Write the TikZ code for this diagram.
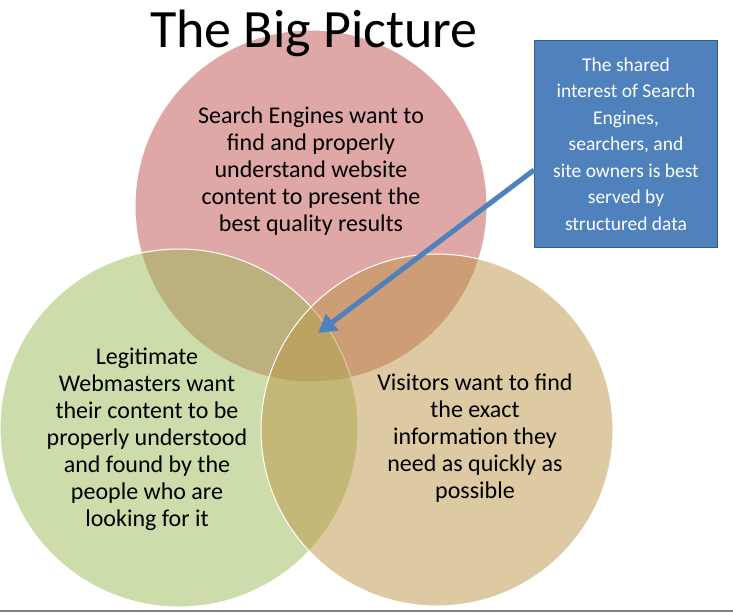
\documentclass[tikz,border=0pt]{standalone}
\usepackage{fontspec}
\setmainfont{Carlito}
\usetikzlibrary{arrows.meta}
\definecolor{cred}{RGB}{192,80,77}
\definecolor{cgreen}{RGB}{155,187,89}
\definecolor{ctan}{RGB}{189,150,70}
\definecolor{cblue}{RGB}{79,129,189}
\definecolor{cbluedark}{RGB}{56,93,138}
\tikzset{circ/.style={draw=white,line width=1pt,fill opacity=0.5},
 txt/.style={align=center,font=\fontsize{24}{27}\selectfont,text=black}}
\begin{document}
\begin{tikzpicture}[x=1pt,y=-1pt]
\useasboundingbox (0,0) rectangle (733,614);
\fill[white] (0,0) rectangle (733,614);
\draw[circ,fill=cred] (311,206) circle (176);
\draw[circ,fill=cgreen] (179,428) circle (179);
\draw[circ,fill=ctan] (437,430) circle (176);
\draw[gray,line width=1.5pt] (0,611) -- (733,611);
\node[font=\fontsize{54}{58}\selectfont] (title) at (314,33) {The Big Picture};
\node[txt] (t1) at (311,171) {Search Engines want to\\find and properly\\understand website\\content to present the\\best quality results};
\node[txt] (t2) at (147,439) {Legitimate\\Webmasters want\\their content to be\\properly understood\\and found by the\\people who are\\looking for it};
\node[txt] (t3) at (475,438) {Visitors want to find\\the exact\\information they\\need as quickly as\\possible};
\node[draw=cbluedark,fill=cblue,line width=1pt,minimum width=183,minimum height=207,align=center,text=white,font=\fontsize{19.5}{26.5}\selectfont] (box) at (626,144) {The shared\\interest of Search\\Engines,\\searchers, and\\site owners is best\\served by\\structured data};
\coordinate (tip) at (318,333);
\draw[cblue,line width=5pt,-{Triangle[length=18pt,width=20pt]}] (box.west|-0,170) -- (tip);
\end{tikzpicture}
\end{document}
